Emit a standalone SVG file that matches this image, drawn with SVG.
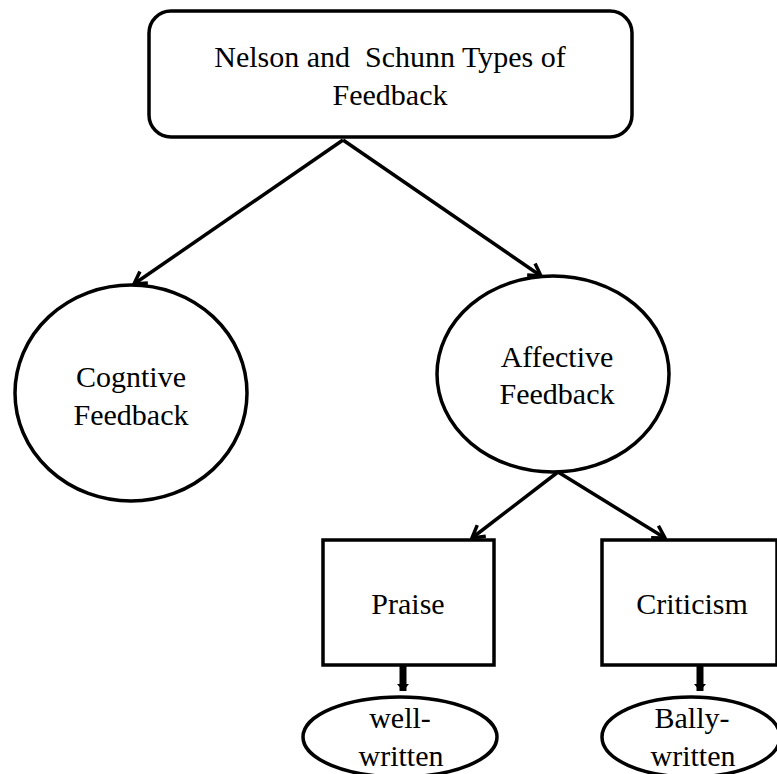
<svg xmlns="http://www.w3.org/2000/svg" width="777" height="774" viewBox="0 0 777 774">
<style>
.shape{fill:#ffffff;stroke:#000000;stroke-width:3.5}
.lbl{font-family:"Liberation Serif","Times New Roman",serif;font-size:30px;fill:#000000;text-anchor:middle}
.edge{fill:none;stroke:#000000;stroke-width:3.5}
.thick{fill:none;stroke:#000000;stroke-width:7}
</style>
<defs>
<marker id="open" viewBox="-14 -9 16 18" markerWidth="16" markerHeight="18" refX="0" refY="0" orient="auto" markerUnits="userSpaceOnUse">
<path d="M-12,-7 L0,0 L-12,7" fill="none" stroke="#000000" stroke-width="3.5"/>
</marker>
<marker id="solid" viewBox="-8 -7 10 14" markerWidth="10" markerHeight="14" refX="0" refY="0" orient="auto" markerUnits="userSpaceOnUse">
<path d="M-7,-6 L0,0 L-7,6 Z" fill="#000000"/>
</marker>
</defs>
<rect width="777" height="774" fill="#ffffff"/>
<g id="connectors">
<path class="edge" d="M343,140 L134,284" marker-end="url(#open)"/>
<path class="edge" d="M343,140 L541,276" marker-end="url(#open)"/>
<path class="edge" d="M558,472 L472,538" marker-end="url(#open)"/>
<path class="edge" d="M558,472 L665,538" marker-end="url(#open)"/>
<path class="thick" d="M403,657 L403,691" marker-end="url(#solid)"/>
<path class="thick" d="M700,665 L700,691" marker-end="url(#solid)"/>
</g>
<g id="root">
<rect class="shape" x="149" y="11" width="483" height="126" rx="22" ry="22"/>
<text class="lbl" x="390" y="67" xml:space="preserve">Nelson and  Schunn Types of</text>
<text class="lbl" x="390" y="105">Feedback</text>
</g>
<g id="cognitive">
<ellipse class="shape" cx="131" cy="393" rx="116" ry="108"/>
<text class="lbl" x="131" y="387">Cogntive</text>
<text class="lbl" x="131" y="425">Feedback</text>
</g>
<g id="affective">
<ellipse class="shape" cx="553" cy="374" rx="116" ry="98"/>
<text class="lbl" x="557" y="367">Affective</text>
<text class="lbl" x="557" y="404">Feedback</text>
</g>
<g id="praise">
<rect class="shape" x="323" y="540" width="171" height="125"/>
<text class="lbl" x="408" y="614">Praise</text>
</g>
<g id="criticism">
<rect class="shape" x="602" y="540" width="175" height="125"/>
<text class="lbl" x="692" y="614">Criticism</text>
</g>
<g id="well-written">
<ellipse class="shape" cx="400" cy="737" rx="97" ry="40"/>
<text class="lbl" x="400" y="728">well-</text>
<text class="lbl" x="401" y="766">written</text>
</g>
<g id="bally-written">
<ellipse class="shape" cx="691" cy="737" rx="89" ry="40"/>
<text class="lbl" x="692" y="728">Bally-</text>
<text class="lbl" x="693" y="766">written</text>
</g>
</svg>
